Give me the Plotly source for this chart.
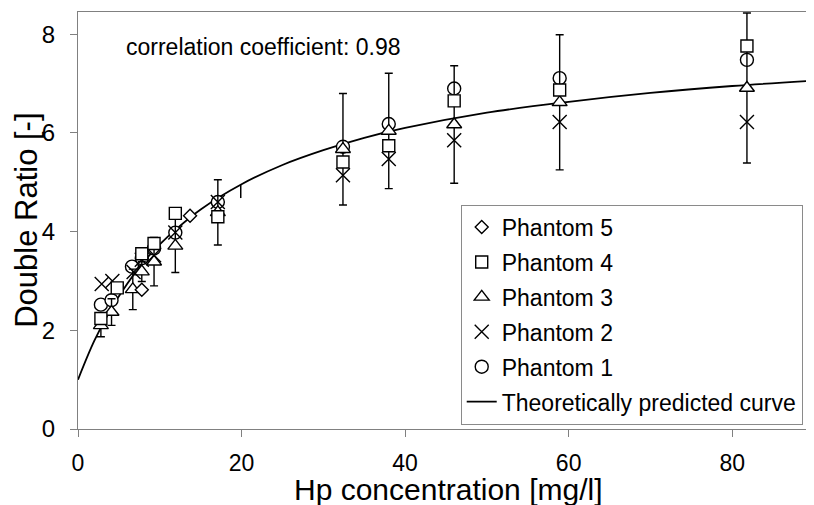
import plotly.graph_objects as go

# ---- data ----
curve_x = [0, 2, 4, 6, 8, 10, 12, 15, 20, 25, 30, 35, 40, 50, 60, 70, 80, 90]
curve_y = [1.00, 1.79, 2.42, 2.94, 3.38, 3.74, 4.05, 4.45, 4.96, 5.35, 5.65, 5.90, 6.10, 6.41, 6.63, 6.81, 6.95, 7.06]

p1_x = [2.8, 4.1, 6.6, 7.8, 9.3, 11.9, 17.1, 32.4, 38.0, 46.0, 58.9, 81.8]
p1_y = [2.52, 2.61, 3.29, 3.46, 3.66, 3.98, 4.60, 5.72, 6.18, 6.90, 7.11, 7.48]

p2_x = [2.9, 4.2, 6.8, 7.8, 9.3, 11.9, 17.1, 32.4, 38.0, 46.0, 58.9, 81.8]
p2_y = [2.94, 3.00, 3.18, 3.43, 3.52, 3.98, 4.60, 5.14, 5.47, 5.85, 6.22, 6.22]

p3_x = [2.8, 4.1, 6.7, 7.8, 9.3, 11.9, 17.1, 32.4, 38.0, 46.0, 58.9, 81.8]
p3_y = [2.10, 2.37, 2.83, 3.19, 3.39, 3.71, 4.39, 5.67, 6.04, 6.17, 6.62, 6.91]
p3_err = [0.23, 0.27, 0.41, 0.20, 0.49, 0.54, 0.66, 1.13, 1.17, 1.19, 1.37, 1.52]

p4_x = [2.8, 4.8, 7.8, 9.3, 11.9, 17.1, 32.4, 38.0, 46.0, 58.9, 81.8]
p4_y = [2.24, 2.86, 3.55, 3.76, 4.37, 4.30, 5.41, 5.74, 6.65, 6.87, 7.76]

p5_x = [7.8, 13.7]
p5_y = [2.82, 4.32]

extra_bar_x = [19.9, 19.9]
extra_bar_y = [4.68, 4.95]

x_ticks = [0, 20, 40, 60, 80]
y_ticks = [0, 2, 4, 6, 8]

FONT = "Liberation Sans, Arial, sans-serif"
MLINE = dict(color="black", width=1.4)

fig = go.Figure()

fig.add_trace(go.Scatter(
    x=curve_x, y=curve_y, mode="lines", line=dict(color="black", width=1.8, shape="spline"),
    name="Theoretically predicted curve", legendrank=6, legendgroup="g6"))

fig.add_trace(go.Scatter(
    x=extra_bar_x, y=extra_bar_y, mode="lines", line=dict(color="black", width=1.5),
    showlegend=False, hoverinfo="skip"))

fig.add_trace(go.Scatter(
    x=p1_x, y=p1_y, mode="markers", name="Phantom 1", legendrank=5, legendgroup="g5",
    marker=dict(symbol="circle", size=13, color="white", line=MLINE)))

fig.add_trace(go.Scatter(
    x=p3_x, y=p3_y, mode="markers", name="Phantom 3", legendrank=3, legendgroup="g3",
    error_y=dict(type="data", array=p3_err, visible=True, color="black", thickness=1.4, width=4),
    marker=dict(symbol="triangle-up", size=13, color="white", line=MLINE)))

fig.add_trace(go.Scatter(
    x=p2_x, y=p2_y, mode="markers", name="Phantom 2", legendrank=4, legendgroup="g4",
    marker=dict(symbol="x-thin", size=14, color="black", line=MLINE)))

fig.add_trace(go.Scatter(
    x=p4_x, y=p4_y, mode="markers", name="Phantom 4", legendrank=2, legendgroup="g2",
    marker=dict(symbol="square", size=12, color="white", line=MLINE)))

fig.add_trace(go.Scatter(
    x=p5_x, y=p5_y, mode="markers", name="Phantom 5", legendrank=1, legendgroup="g1",
    marker=dict(symbol="diamond", size=10, color="white", line=MLINE)))

fig.add_annotation(
    x=5.6, y=7.74, xref="x", yref="y", text="correlation coefficient: 0.98",
    showarrow=False, xanchor="left", yanchor="middle",
    font=dict(family=FONT, size=23, color="black"))

fig.add_annotation(
    x=0.503, y=-0.145, xref="paper", yref="paper", text="Hp concentration [mg/l]",
    showarrow=False, xanchor="center", yanchor="middle",
    font=dict(family=FONT, size=30, color="black"))

fig.add_annotation(
    x=-0.071, y=0.501, xref="paper", yref="paper", text="Double Ratio [-]",
    showarrow=False, xanchor="center", yanchor="middle", textangle=-90,
    font=dict(family=FONT, size=31, color="black"))

# the page body has an 8px margin, so the figure is sized and placed to fit the window
fig.update_layout(
    width=806, height=497,
    margin=dict(l=70, r=0, t=4, b=76),
    paper_bgcolor="white", plot_bgcolor="white",
    font=dict(family=FONT, color="black"),
    showlegend=True,
    legend=dict(
        x=0.520, y=0.538, xanchor="left", yanchor="top",
        bgcolor="white", bordercolor="#8a8a8a", borderwidth=1,
        font=dict(family=FONT, size=23, color="black"),
        traceorder="grouped", tracegroupgap=2,
    ),
    xaxis=dict(
        range=[0, 90], tickvals=x_ticks, showgrid=False, zeroline=False,
        showline=True, linecolor="#808080", linewidth=1, mirror=True,
        ticks="outside", ticklen=7, tickcolor="#808080",
        ticklabelstandoff=6,
        tickfont=dict(family=FONT, size=23, color="black")),
    yaxis=dict(
        range=[0, 8.45], tickvals=y_ticks, showgrid=False, zeroline=False,
        showline=True, linecolor="#808080", linewidth=1,
        ticks="outside", ticklen=7, tickcolor="#808080",
        ticklabelstandoff=10,
        tickfont=dict(family=FONT, size=24, color="black")),
)

fig.write_html("out.html")
